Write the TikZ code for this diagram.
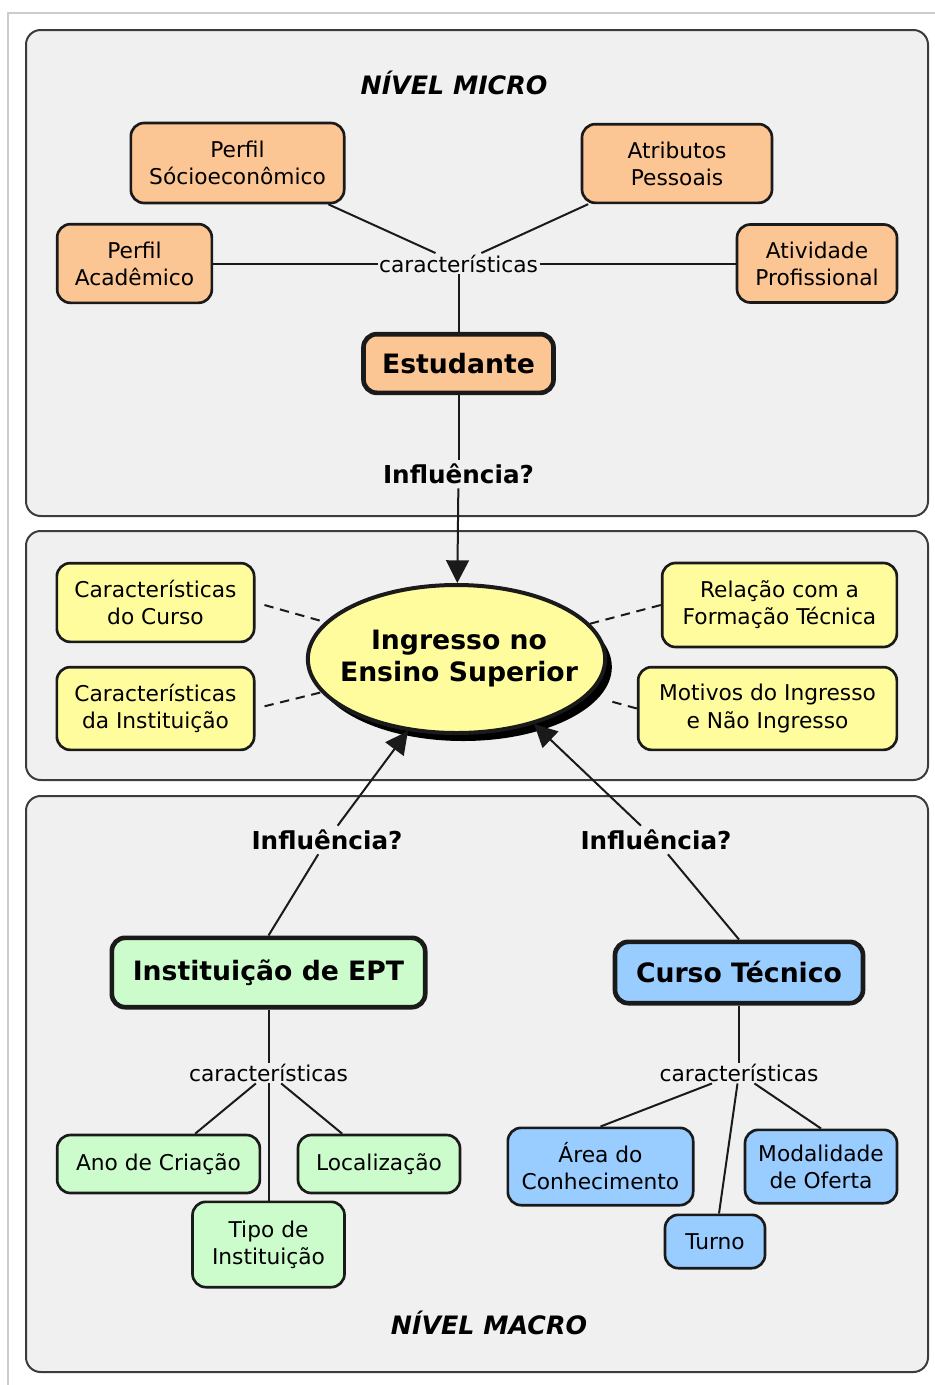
\documentclass[tikz,border=0pt]{standalone}
\usepackage{fontspec}
\setmainfont{DejaVu Sans}
\usetikzlibrary{arrows.meta,shapes.geometric,shadows}
\definecolor{ink}{HTML}{1A1A1A}
\definecolor{panelgray}{HTML}{F0F0F0}
\definecolor{peach}{HTML}{FBC594}
\definecolor{lemon}{HTML}{FFFC9E}
\definecolor{mint}{HTML}{CCFCCC}
\definecolor{sky}{HTML}{99CCFF}
\newcommand{\txtfont}{\fontsize{16.3}{20.3}\selectfont}
\newcommand{\conceptfont}{\fontsize{20}{24}\selectfont\bfseries}
\newcommand{\inflfont}{\fontsize{18.5}{22}\selectfont\bfseries}
\newcommand{\lvlfont}{\fontsize{19}{23}\selectfont\bfseries\itshape}
\tikzset{
  panel/.style={draw=ink!85, fill=panelgray, line width=1.5pt, rounded corners=11pt},
  box/.style={rectangle, rounded corners=10pt, draw=ink, line width=2pt, align=center,
              inner sep=0pt, font=\txtfont},
  microbox/.style={box, fill=peach},
  mesobox/.style={box, fill=lemon},
  eptbox/.style={box, fill=mint},
  cursobox/.style={box, fill=sky},
  concept/.style={line width=3.5pt, font=\conceptfont},
  lbl/.style={font=\txtfont, inner sep=1pt},
  inflbl/.style={font=\inflfont, inner sep=3pt},
  lvl/.style={font=\lvlfont},
  link/.style={draw=ink, line width=1.5pt},
  flow/.style={link, -{Triangle[length=17pt,width=17pt]}},
  weak/.style={link, dash pattern=on 7pt off 5pt}
}

\begin{document}
\begin{tikzpicture}[x=0.75pt, y=-0.75pt]
  \useasboundingbox (0,0) rectangle (935,1385);
  \draw[draw=black!20, line width=1pt] (8,1400) -- (8,13) -- (950,13);
  % panels
  \draw[panel] (26,30) rectangle (928,516);
  \draw[panel] (26,531) rectangle (928,780);
  \draw[panel] (26,796) rectangle (928,1372);

  % nivel micro
  \node[lvl] (nmi) at (454,83) {NÍVEL MICRO};
  \node[microbox, minimum width=160pt, minimum height=60pt] (ps) at (237.5,163) {Perfil\\Sócioeconômico};
  \node[microbox, minimum width=142.5pt, minimum height=59pt] (ap) at (677,163.5) {Atributos\\Pessoais};
  \node[microbox, minimum width=116pt, minimum height=59pt] (pa) at (134.5,263.5) {Perfil\\Acadêmico};
  \node[microbox, minimum width=120pt, minimum height=58.5pt] (at) at (817,263.5) {Atividade\\Profissional};
  \node[lbl] (car1) at (458.5,263.5) {características};
  \node[microbox, concept, minimum width=142.5pt, minimum height=44pt] (es) at (458.5,363.5) {Estudante};
  \node[inflbl] (inf1) at (458.5,474) {Influência?};

  % ingresso
  \node[ellipse, draw=ink, line width=3pt, fill=lemon, minimum width=223pt, minimum height=111pt,
        inner sep=0pt, drop shadow={shadow xshift=5pt, shadow yshift=-6pt, fill=black, opacity=1}] (i) at (456.5,659) {};
  \node[align=center, font=\conceptfont] (it) at (459,659) {Ingresso no\\Ensino Superior};
  \node[mesobox, minimum width=148pt, minimum height=59pt] (cc) at (155.5,602.5) {Características\\do Curso};
  \node[mesobox, minimum width=148pt, minimum height=62pt] (ci) at (155.5,708.5) {Características\\da Instituição};
  \node[mesobox, minimum width=176pt, minimum height=63pt] (rf) at (779.5,605) {Relação com a\\Formação Técnica};
  \node[mesobox, minimum width=194pt, minimum height=62pt] (mi) at (767.5,708.5) {Motivos do Ingresso\\e Não Ingresso};

  % nivel macro
  \node[inflbl] (inf2) at (327,840) {Influência?};
  \node[inflbl] (inf3) at (656,840) {Influência?};
  \node[eptbox, concept, minimum width=235pt, minimum height=52pt] (ept) at (268.5,972.5) {Instituição de EPT};
  \node[cursobox, concept, minimum width=186pt, minimum height=46pt] (ct) at (739,972.5) {Curso Técnico};
  \node[lbl] (car2) at (268.5,1073) {características};
  \node[lbl] (car3) at (739,1073) {características};
  \node[eptbox, minimum width=152pt, minimum height=43.5pt] (ano) at (158.5,1164) {Ano de Criação};
  \node[eptbox, minimum width=121.5pt, minimum height=43.5pt] (loc) at (379,1164) {Localização};
  \node[eptbox, minimum width=114pt, minimum height=64pt] (tp) at (268.5,1244.5) {Tipo de\\Instituição};
  \node[cursobox, minimum width=139pt, minimum height=58pt] (ar) at (600.5,1166.5) {Área do\\Conhecimento};
  \node[cursobox, minimum width=114pt, minimum height=55pt] (mo) at (821,1166.5) {Modalidade\\de Oferta};
  \node[cursobox, minimum width=75pt, minimum height=40pt] (tu) at (715,1241.5) {Turno};
  \node[lvl] (nma) at (489,1323) {NÍVEL MACRO};

  % links
  \draw[link] (ps) -- (car1);
  \draw[link] (ap) -- (car1);
  \draw[link] (pa) -- (car1);
  \draw[link] (car1) -- (at);
  \draw[link] (car1) -- (es);
  \draw[link] (es) -- (inf1);
  \draw[flow] (inf1) -- (i);
  \draw[weak, shorten <=7pt] (cc.east) -- (i);
  \draw[weak, shorten <=7pt] (ci.east) -- (i);
  \draw[weak] (i) -- (rf.west);
  \draw[weak, shorten >=18pt] (mi.west) -- (i);
  \draw[link] (ept.north) -- (inf2);
  \draw[flow] (inf2) -- (i.236);
  \draw[link] (ct.north) -- (inf3);
  \draw[flow] (inf3) -- (i.320);
  \draw[link] (ept) -- (car2);
  \draw[link] (car2) -- (ano);
  \draw[link] (car2) -- (loc);
  \draw[link] (car2) -- (tp);
  \draw[link] (ct) -- (car3);
  \draw[link] (car3) -- (ar.north);
  \draw[link] (car3) -- (tu);
  \draw[link] (car3) -- (mo.north);
\end{tikzpicture}
\end{document}
